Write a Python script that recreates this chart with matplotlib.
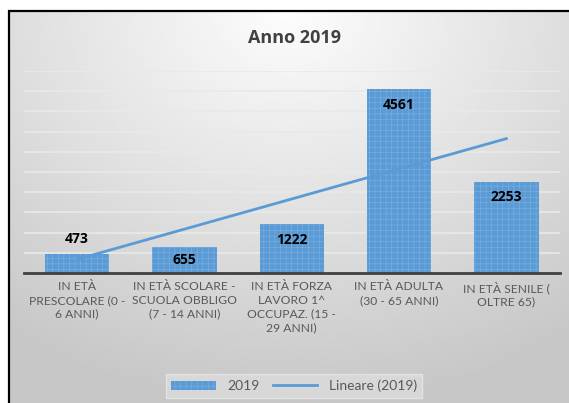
import numpy as np
import matplotlib
matplotlib.use("Agg")
import matplotlib.pyplot as plt
from matplotlib.patches import Rectangle

categories = [
    "IN ETÀ\nPRESCOLARE (0 -\n6 ANNI)",
    "IN ETÀ SCOLARE -\nSCUOLA OBBLIGO\n(7 - 14 ANNI)",
    "IN ETÀ FORZA\nLAVORO 1^\nOCCUPAZ. (15 -\n29 ANNI)",
    "IN ETÀ ADULTA\n(30 - 65 ANNI)",
    "IN ETÀ SENILE (\nOLTRE 65)",
]
values = [473, 655, 1222, 4561, 2253]
label_offsets = [11, -10, -12, -12, -11]  # points; first label sits above its short bar

plt.rcParams["font.family"] = ["Lato", "DejaVu Sans"]
plt.rcParams["hatch.linewidth"] = 0.35

W, H = 569, 403
fig = plt.figure(figsize=(W / 100, H / 100), dpi=100)
fig.patch.set_facecolor("white")

# gradient background inside the chart frame
bg = fig.add_axes([9 / W, 0, 1 - 9 / W, 1 - 11 / H])
bg.set_axis_off()
yy, xx = np.mgrid[0:1:200j, 0:1:300j]
d = np.sqrt(((xx - 0.5) * 1.1) ** 2 + (yy * 0.95) ** 2)
shade = np.clip(0.99 - 0.22 * d, 0.78, 1)
bg.imshow(shade, cmap="gray", vmin=0, vmax=1, aspect="auto",
          extent=[0, 1, 1, 0], interpolation="bilinear")
bg.set_xlim(0, 1)
bg.set_ylim(1, 0)
fig.add_artist(Rectangle((9 / W, -0.02), 1.1, 1 - 11 / H + 0.02,
                         transform=fig.transFigure, fill=False,
                         edgecolor="black", lw=1.6, zorder=5))

ax = fig.add_axes([23.5 / W, (H - 273) / H, (560 - 23.5) / W, (273 - 71) / H])
ax.set_facecolor("none")
x = np.arange(1, len(values) + 1)
bars = ax.bar(x, values, width=0.6, color="#5b9bd5", edgecolor="#80b2e2",
              hatch="+++", linewidth=0, zorder=2, label="2019")

# linear trend line
k, b = np.polyfit(x, values, 1)
trend, = ax.plot(x[[0, -1]], k * x[[0, -1]] + b, color="#5b9bd5", lw=2,
                 zorder=3, label="Lineare (2019)")

for xi, v, off in zip(x, values, label_offsets):
    ax.annotate(str(v), (xi, v), xytext=(0, off), textcoords="offset points",
                ha="center", va="center", fontsize=10, fontweight="bold",
                family="Open Sans", color="black", zorder=4)

ax.set_xlim(0.5, len(values) + 0.5)
ax.set_ylim(0, 5000)
ax.set_yticks(np.arange(500, 5001, 500))
ax.yaxis.grid(True, color="#e9e9e9", lw=1.2, zorder=0)
ax.tick_params(axis="y", left=False, labelleft=False)
ax.tick_params(axis="x", length=0, pad=6)
ax.set_xticks(x)
ax.set_xticklabels(categories, fontsize=8.7, color="#595959", linespacing=1.3,
                   va="top")
for s in ["top", "right", "left"]:
    ax.spines[s].set_visible(False)
ax.spines["bottom"].set_color("#404040")
ax.spines["bottom"].set_linewidth(2)

fig.text(295 / W, 1 - 38 / H, "Anno 2019", ha="center", va="center",
         fontsize=13, fontweight="bold", family="Open Sans", color="#404040")

leg = fig.legend([bars, trend], ["2019", "Lineare (2019)"], loc="center",
                 bbox_to_anchor=(294 / W, 1 - 386 / H),
                 ncol=2, frameon=True, fontsize=10, handlelength=3.2,
                 columnspacing=1.0, borderpad=0.4, fancybox=False)
leg.get_frame().set_facecolor("#dcdcdc")
leg.get_frame().set_edgecolor("#e8e8e8")
for t in leg.get_texts():
    t.set_color("#595959")

fig.savefig("out.png", dpi=100)
